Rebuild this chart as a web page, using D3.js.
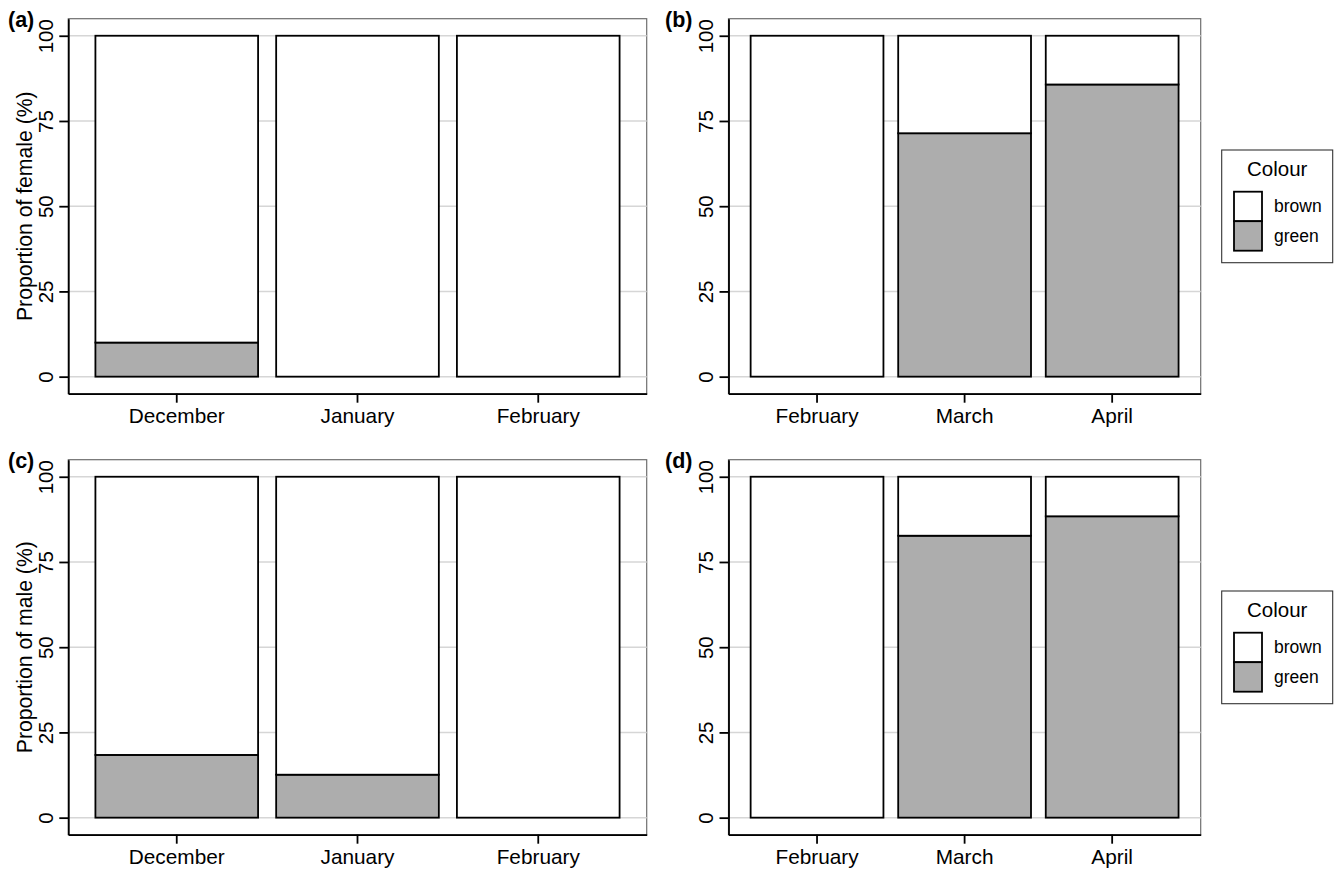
<!DOCTYPE html>
<html>
<head>
<meta charset="utf-8">
<script src="https://cdn.jsdelivr.net/npm/d3@7"></script>
<style>
  html, body { margin: 0; padding: 0; background: #ffffff; }
  svg { display: block; font-family: "Liberation Sans", Arial, Helvetica, sans-serif; }
</style>
</head>
<body>
<svg id="chart" width="1336" height="869"></svg>
<script>
// ---- data ----
const panelTags = ["(a)", "(b)", "(c)", "(d)"];
const winterMonths = ["December", "January", "February"];
const springMonths = ["February", "March", "April"];
const femaleWinterGreen = [10, 0, 0];
const femaleSpringGreen = [0, 71.4, 85.7];
const maleWinterGreen = [18.4, 12.6, 0];
const maleSpringGreen = [0, 82.7, 88.4];
const colourLevels = ["brown", "green"];
const colourFills = ["#ffffff", "#adadad"];
const yTicks = [0, 25, 50, 75, 100];
const yTitles = ["Proportion of female (%)", "Proportion of male (%)"];
const legendTitle = "Colour";

// ---- layout ----
const svg = d3.select("#chart");
const rowTops = [18.7, 459.7];
const panelH = 375;
const cols = [{x0: 68.3, x1: 646.7}, {x0: 728.5, x1: 1200.7}];

const panelDefs = [
  {tag: panelTags[0], cats: winterMonths, green: femaleWinterGreen, row: 0, col: 0, title: yTitles[0]},
  {tag: panelTags[1], cats: springMonths, green: femaleSpringGreen, row: 0, col: 1, title: null},
  {tag: panelTags[2], cats: winterMonths, green: maleWinterGreen, row: 1, col: 0, title: yTitles[1]},
  {tag: panelTags[3], cats: springMonths, green: maleSpringGreen, row: 1, col: 1, title: null}
];

const fill = d3.scaleOrdinal().domain(colourLevels).range(colourFills);

panelDefs.forEach(p => {
  const top = rowTops[p.row], bottom = top + panelH;
  const left = cols[p.col].x0, right = cols[p.col].x1;
  const x = d3.scaleBand().domain(p.cats).range([left, right])
    .paddingInner(0.1).paddingOuter(0.15).align(0.5);
  const y = d3.scaleLinear().domain([-5, 105]).range([bottom, top]);

  const g = svg.append("g");

  // panel border (top/right grey)
  g.append("rect")
    .attr("x", left).attr("y", top)
    .attr("width", right - left).attr("height", bottom - top)
    .attr("fill", "#ffffff").attr("stroke", "#6e6e6e").attr("stroke-width", 1.2);

  // grid lines
  g.selectAll(".grid").data(yTicks).enter().append("line")
    .attr("x1", left).attr("x2", right)
    .attr("y1", d => y(d)).attr("y2", d => y(d))
    .attr("stroke", "#d6d6d6").attr("stroke-width", 1.5);

  // stacked data: green at bottom, brown on top
  const rows = p.cats.map((c, i) => ({cat: c, green: p.green[i], brown: 100 - p.green[i]}));
  const stack = d3.stack().keys(["green", "brown"])(rows);
  stack.forEach(layer => {
    g.selectAll(".bar-" + layer.key).data(layer.filter(d => d[1] - d[0] > 0)).enter().append("rect")
      .attr("x", d => x(d.data.cat))
      .attr("width", x.bandwidth())
      .attr("y", d => y(d[1]))
      .attr("height", d => y(d[0]) - y(d[1]))
      .attr("fill", fill(layer.key))
      .attr("stroke", "#000").attr("stroke-width", 1.8);
  });

  // y axis
  const ya = g.append("g").attr("transform", `translate(${left},0)`)
    .call(d3.axisLeft(y).tickValues(yTicks).tickSize(9).tickSizeOuter(0));
  ya.attr("font-family", null).attr("font-size", null);
  ya.select(".domain").attr("stroke", "#000").attr("stroke-width", 1.8);
  ya.selectAll(".tick line").attr("stroke", "#000").attr("stroke-width", 1.8);
  ya.selectAll(".tick text")
    .attr("transform", "rotate(-90)")
    .attr("x", 0).attr("y", -15.5).attr("dy", 0)
    .attr("text-anchor", "middle")
    .attr("fill", "#000")
    .style("font-size", "20.5px");

  // x axis
  const xa = g.append("g").attr("transform", `translate(0,${bottom})`)
    .call(d3.axisBottom(x).tickSize(9).tickSizeOuter(0));
  xa.attr("font-family", null).attr("font-size", null);
  xa.select(".domain").attr("stroke", "#000").attr("stroke-width", 1.8);
  xa.selectAll(".tick line").attr("stroke", "#000").attr("stroke-width", 1.8);
  xa.selectAll(".tick text")
    .attr("y", 29.5).attr("dy", 0)
    .attr("fill", "#000")
    .style("font-size", "20.8px");

  // y title
  if (p.title) {
    g.append("text")
      .attr("transform", `translate(31.5,${(top + bottom) / 2}) rotate(-90)`)
      .attr("text-anchor", "middle")
      .style("font-size", "21.2px")
      .text(p.title);
  }

  // tag
  g.append("text")
    .attr("x", p.col === 0 ? 8 : 665)
    .attr("y", top + 8)
    .style("font-size", "21.5px").style("font-weight", "bold")
    .text(p.tag);

  // legend for right column
  if (p.col === 1) {
    const ly = top + 131.3;
    const lg = svg.append("g");
    lg.append("rect").attr("x", 1221.7).attr("y", ly).attr("width", 111).attr("height", 112.7)
      .attr("fill", "#fff").attr("stroke", "#333").attr("stroke-width", 1.1);
    lg.append("text").attr("x", 1277.2).attr("y", ly + 26).attr("text-anchor", "middle")
      .style("font-size", "20.5px").text(legendTitle);
    colourLevels.forEach((lv, i) => {
      lg.append("rect").attr("x", 1234).attr("y", ly + 41.7 + i * 29.5)
        .attr("width", 28).attr("height", 29.5)
        .attr("fill", fill(lv)).attr("stroke", "#000").attr("stroke-width", 1.8);
      lg.append("text").attr("x", 1274).attr("y", ly + 62 + i * 29.7)
        .style("font-size", "17.5px").text(lv);
    });
  }
});
</script>
</body>
</html>
